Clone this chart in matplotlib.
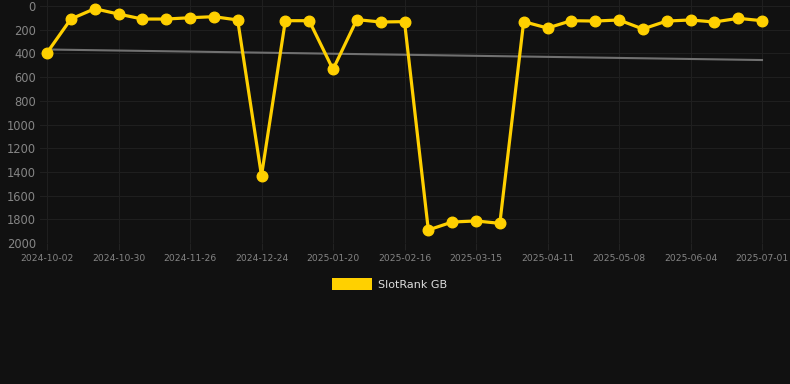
import matplotlib
matplotlib.use("Agg")
import matplotlib.pyplot as plt
from matplotlib.patches import Rectangle

values = [395, 110, 23, 68, 110, 110, 99, 90, 118, 1432, 124, 124, 535, 115, 135,
          132, 1890, 1823, 1814, 1834, 132, 186, 124, 127, 118, 194, 127, 118, 135, 104, 124]
tick_labels = ["2024-10-02", "2024-10-30", "2024-11-26", "2024-12-24", "2025-01-20",
               "2025-02-16", "2025-03-15", "2025-04-11", "2025-05-08", "2025-06-04", "2025-07-01"]
trend_ends = [367, 456]
series_name = "SlotRank GB"

W, H, DPI = 790, 384, 100
bg = "#111111"
fig = plt.figure(figsize=(W / DPI, H / DPI), dpi=DPI, facecolor=bg)
ax = fig.add_axes([40 / W, 1 - 243 / H, 750 / W, 243 / H], facecolor=bg)

n = len(values)
x = list(range(n))
px = 715 / (n - 1)
ax.set_xlim(-7 / px, (n - 1) + 28 / px)
ax.set_ylim(2000, -6 * 2000 / 237)

ax.plot([0, n - 1], trend_ends, color="#707070", lw=1.5, zorder=2)
ax.plot(x, values, color="#FFD000", lw=2.3, marker="o", ms=7.6, zorder=3,
        solid_joinstyle="round")

ax.set_yticks(range(0, 2001, 200))
ax.set_yticklabels([str(v) for v in range(0, 2001, 200)])
ax.set_xticks(range(0, n, 3))
ax.set_xticklabels(tick_labels)
ax.tick_params(axis="y", colors="#888888", labelsize=8.3, length=0, pad=3)
ax.tick_params(axis="x", colors="#888888", labelsize=6.6, length=5, pad=3,
               color="#222222")
for lab in ax.get_yticklabels() + ax.get_xticklabels():
    lab.set_color("#858585")
ax.grid(True, color="#1f1f1f", lw=0.8)
ax.set_axisbelow(True)
for s in ax.spines.values():
    s.set_visible(False)

fig.patches.append(Rectangle((332 / W, 1 - 290 / H), 40 / W, 12 / H,
                             transform=fig.transFigure, facecolor="#FFD000",
                             edgecolor="none"))
fig.text(378 / W, 1 - 284.5 / H, series_name, color="#dddddd", fontsize=8,
         va="center", ha="left")

fig.savefig("out.png", dpi=DPI, facecolor=bg)
